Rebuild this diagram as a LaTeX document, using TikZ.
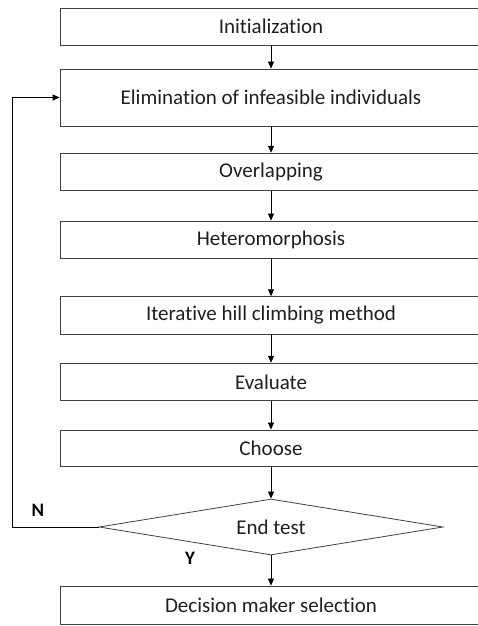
\documentclass[tikz,border=0pt]{standalone}
\usepackage{fontspec}
\setmainfont[Ligatures=NoCommon]{Carlito}
\usetikzlibrary{shapes.geometric,arrows.meta}
\begin{document}
\begin{tikzpicture}[x=1pt,y=-1pt,
  box/.style={draw=black!75,line width=0.8pt,minimum width=422pt,inner sep=0pt,font=\fontsize{21}{23}\selectfont,text=black!88},
  arr/.style={-{Triangle[length=7pt,width=6pt]},line width=0.7pt},
  lab/.style={font=\fontsize{19}{21}\selectfont\bfseries}]
\useasboundingbox (0,0) rectangle (478,626);
\clip (0,0) rectangle (478,626);
\node[box,minimum height=36.7pt] (init) at (271,26.7) {Initialization};
\node[box,minimum height=57pt] (elim) at (271,97.5) {Elimination of infeasible individuals};
\node[box,minimum height=37.7pt] (over) at (271,172) {Overlapping};
\node[box,minimum height=37pt] (het) at (271,239.5) {Heteromorphosis};
\node[box,minimum height=37.3pt] (iter) at (271,315.3) {Iterative hill climbing method};
\node[box,minimum height=37.7pt] (eval) at (271,382) {Evaluate};
\node[box,minimum height=36.7pt] (choose) at (271,448.3) {Choose};
\node[draw=black!75,line width=0.8pt,diamond,aspect=6.14,minimum width=344pt,minimum height=56pt,inner sep=0pt,font=\fontsize{21}{23}\selectfont,text=black!88] (test) at (271,527) {End test};
\node[box,minimum height=38pt] (dec) at (271,605) {Decision maker selection};
\coordinate (fb1) at (12,527);
\coordinate (fb2) at (12,97.5);
\draw[arr] (init.south -| test.north) -- (elim.north -| test.north);
\draw[arr] (elim.south -| test.north) -- (over.north -| test.north);
\draw[arr] (over.south -| test.north) -- (het.north -| test.north);
\draw[arr] (het.south -| test.north) -- (iter.north -| test.north);
\draw[arr] (iter.south -| test.north) -- (eval.north -| test.north);
\draw[arr] (eval.south -| test.north) -- (choose.north -| test.north);
\draw[arr] (choose.south -| test.north) -- (test.north);
\draw[arr] (test.south) -- (dec.north -| test.south);
\draw[arr] (test.west) -- (fb1) -- (fb2) -- (elim.west);
\node[lab] (n) at (38,510) {N};
\node[lab] (y) at (190,558) {Y};
\end{tikzpicture}
\end{document}
